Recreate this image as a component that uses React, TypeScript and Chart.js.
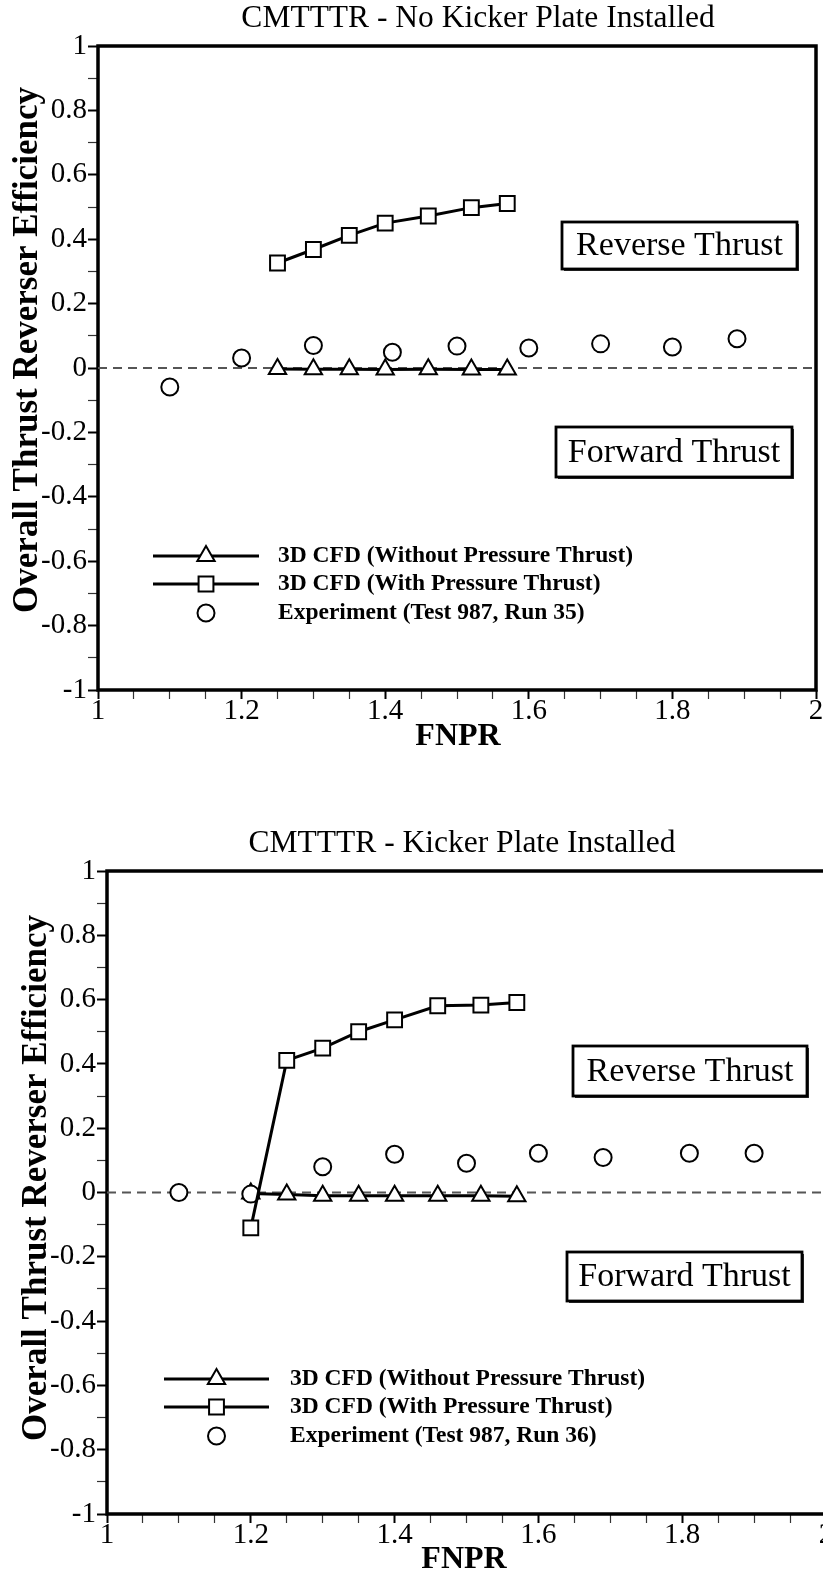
import React, { useEffect, useRef } from 'react';
import { Chart, registerables } from 'chart.js';

Chart.register(...registerables);

const FONT = "'Liberation Serif', 'Times New Roman', Times, serif";

// ---------- tick labels ----------
const xMin = 1;
const xMax = 2;
const yMin = -1;
const yMax = 1;
const xMajorTicks = [1, 1.2, 1.4, 1.6, 1.8, 2];
const yMajorTicks = [-1, -0.8, -0.6, -0.4, -0.2, 0, 0.2, 0.4, 0.6, 0.8, 1];

// ---------- series labels ----------
const labelWithout = '3D CFD (Without Pressure Thrust)';
const labelWith = '3D CFD (With Pressure Thrust)';
const labelExp1 = 'Experiment (Test 987, Run 35)';
const labelExp2 = 'Experiment (Test 987, Run 36)';

// ---------- panel 1: no kicker plate ----------
const fnprCfd1 = [1.25, 1.3, 1.35, 1.4, 1.46, 1.52, 1.57];
const effWithout1 = [-0.003, -0.004, -0.004, -0.005, -0.004, -0.005, -0.005];
const effWith1 = [0.326, 0.368, 0.412, 0.45, 0.472, 0.498, 0.511];
const fnprExp1 = [1.1, 1.2, 1.3, 1.41, 1.5, 1.6, 1.7, 1.8, 1.89];
const effExp1 = [-0.059, 0.031, 0.07, 0.049, 0.068, 0.062, 0.075, 0.065, 0.091];

// ---------- panel 2: kicker plate installed ----------
const fnprCfd2 = [1.2, 1.25, 1.3, 1.35, 1.4, 1.46, 1.52, 1.57];
const effWithout2 = [-0.003, -0.006, -0.01, -0.01, -0.01, -0.01, -0.01, -0.012];
const effWith2 = [-0.11, 0.411, 0.449, 0.5, 0.537, 0.581, 0.583, 0.591];
const fnprExp2 = [1.1, 1.2, 1.3, 1.4, 1.5, 1.6, 1.69, 1.81, 1.9];
const effExp2 = [0.0, -0.005, 0.08, 0.119, 0.091, 0.122, 0.109, 0.122, 0.122];

const toPts = (xs: number[], ys: number[]) => xs.map((x, i) => ({ x, y: ys[i] }));

const near = (a: number, b: number) => Math.abs(a - b) < 1e-6;
const majorLabel = (v: number, majors: number[]) => {
  const m = majors.find((t) => near(t, v));
  return m === undefined ? '' : String(m);
};
const isMajor = (v: number, majors: number[]) => majors.some((t) => near(t, v));

function drawMarker(ctx: CanvasRenderingContext2D, style: string, x: number, y: number, r: number) {
  ctx.beginPath();
  if (style === 'triangle') {
    ctx.moveTo(x, y - r);
    ctx.lineTo(x + r * Math.sin((2 * Math.PI) / 3), y - r * Math.cos((2 * Math.PI) / 3));
    ctx.lineTo(x + r * Math.sin((4 * Math.PI) / 3), y - r * Math.cos((4 * Math.PI) / 3));
    ctx.closePath();
  } else if (style === 'rect') {
    const s = Math.SQRT1_2 * r;
    ctx.rect(x - s, y - s, 2 * s, 2 * s);
  } else {
    ctx.arc(x, y, r, 0, Math.PI * 2);
  }
  ctx.fill();
  ctx.stroke();
}

const decorPlugin = {
  id: 'decor',
  beforeDatasetsDraw(chart: any) {
    const { ctx, chartArea: a } = chart;
    ctx.save();
    ctx.strokeStyle = '#000';
    ctx.lineWidth = 3.5;
    ctx.beginPath();
    ctx.rect(a.left, a.top, a.right - a.left, a.bottom - a.top);
    ctx.stroke();
    ctx.restore();
  },
  afterDraw(chart: any, _args: any, opts: any) {
    const { ctx } = chart;
    ctx.save();
    ctx.fillStyle = '#000';
    ctx.textBaseline = 'middle';

    // title
    ctx.textAlign = 'center';
    ctx.font = `normal 31.5px ${FONT}`;
    ctx.fillText(opts.title, opts.titlePos[0], opts.titlePos[1]);

    // x title
    ctx.font = `bold 32px ${FONT}`;
    ctx.fillText(opts.xTitle, opts.xTitlePos[0], opts.xTitlePos[1]);

    // y title
    ctx.save();
    ctx.translate(opts.yTitlePos[0], opts.yTitlePos[1]);
    ctx.rotate(-Math.PI / 2);
    ctx.font = `bold 35px ${FONT}`;
    ctx.fillText(opts.yTitle, 0, 0);
    ctx.restore();

    // annotation boxes
    ctx.font = `normal 34px ${FONT}`;
    for (const b of opts.boxes) {
      const [x1, y1, x2, y2] = b.rect;
      ctx.fillStyle = '#fff';
      ctx.fillRect(x1, y1, x2 - x1, y2 - y1);
      ctx.fillStyle = '#333';
      ctx.fillRect(x1 + 2, y2, x2 - x1, 2);
      ctx.fillRect(x2, y1 + 2, 2, y2 - y1);
      ctx.strokeStyle = '#000';
      ctx.lineWidth = 2.8;
      ctx.strokeRect(x1, y1, x2 - x1, y2 - y1);
      ctx.fillStyle = '#000';
      ctx.textAlign = 'center';
      ctx.fillText(b.text, (x1 + x2) / 2, (y1 + y2) / 2 + 1);
    }

    // legend
    const lg = opts.legend;
    const items = chart.data.datasets.filter((d: any) => d.inLegend);
    items.forEach((d: any, i: number) => {
      const y = lg.rows[i];
      ctx.strokeStyle = '#000';
      if (d.showLine) {
        ctx.lineWidth = d.borderWidth;
        ctx.beginPath();
        ctx.moveTo(lg.x1, y);
        ctx.lineTo(lg.x2, y);
        ctx.stroke();
      }
      ctx.lineWidth = d.pointBorderWidth;
      ctx.fillStyle = '#fff';
      drawMarker(ctx, d.pointStyle, (lg.x1 + lg.x2) / 2, y, d.pointRadius);
      ctx.fillStyle = '#000';
      ctx.textAlign = 'left';
      ctx.font = `bold 23.5px ${FONT}`;
      ctx.fillText(d.label, lg.textX, y);
    });
    ctx.restore();
  },
};

type PanelCfg = {
  top: number;
  width: number;
  height: number;
  area: { left: number; top: number; right: number; bottom: number };
  title: string;
  titlePos: [number, number];
  xTitlePos: [number, number];
  yTitlePos: [number, number];
  legend: { x1: number; x2: number; textX: number; rows: number[] };
  boxes: { text: string; rect: [number, number, number, number] }[];
  fnprCfd: number[];
  effWithout: number[];
  effWith: number[];
  fnprExp: number[];
  effExp: number[];
  expLabel: string;
};

const panels: PanelCfg[] = [
  {
    top: 0,
    width: 823,
    height: 790,
    area: { left: 98, top: 46, right: 816, bottom: 690 },
    title: 'CMTTTR - No Kicker Plate Installed',
    titlePos: [478, 19],
    xTitlePos: [458, 737],
    yTitlePos: [28, 350],
    legend: { x1: 153, x2: 259, textX: 278, rows: [556, 584, 613] },
    boxes: [
      { text: 'Reverse Thrust', rect: [562, 222, 797, 269] },
      { text: 'Forward Thrust', rect: [556, 427, 792, 477] },
    ],
    fnprCfd: fnprCfd1,
    effWithout: effWithout1,
    effWith: effWith1,
    fnprExp: fnprExp1,
    effExp: effExp1,
    expLabel: labelExp1,
  },
  {
    top: 790,
    width: 850,
    height: 789,
    area: { left: 107, top: 81, right: 826, bottom: 724 },
    title: 'CMTTTR - Kicker Plate Installed',
    titlePos: [462, 54],
    xTitlePos: [464, 770],
    yTitlePos: [37, 388],
    legend: { x1: 164, x2: 269, textX: 290, rows: [589, 617, 646] },
    boxes: [
      { text: 'Reverse Thrust', rect: [573, 256, 807, 306] },
      { text: 'Forward Thrust', rect: [567, 462, 802, 511] },
    ],
    fnprCfd: fnprCfd2,
    effWithout: effWithout2,
    effWith: effWith2,
    fnprExp: fnprExp2,
    effExp: effExp2,
    expLabel: labelExp2,
  },
];

function buildConfig(p: PanelCfg): any {
  const xAxisH = 60;
  const tickFont = { family: FONT, size: 29 };
  return {
    type: 'scatter',
    data: {
      datasets: [
        {
          label: 'zero line',
          data: [
            { x: xMin, y: 0 },
            { x: xMax, y: 0 },
          ],
          showLine: true,
          borderColor: '#555',
          borderWidth: 2,
          borderDash: [9, 6],
          pointRadius: 0,
          inLegend: false,
          order: 3,
        },
        {
          label: labelWithout,
          data: toPts(p.fnprCfd, p.effWithout),
          showLine: true,
          borderColor: '#000',
          borderWidth: 3,
          pointStyle: 'triangle',
          pointRadius: 10,
          pointBackgroundColor: '#fff',
          pointBorderColor: '#000',
          pointBorderWidth: 2,
          inLegend: true,
          order: 2,
        },
        {
          label: labelWith,
          data: toPts(p.fnprCfd, p.effWith),
          showLine: true,
          borderColor: '#000',
          borderWidth: 3,
          pointStyle: 'rect',
          pointRadius: 10.5,
          pointBackgroundColor: '#fff',
          pointBorderColor: '#000',
          pointBorderWidth: 2,
          inLegend: true,
          order: 0,
        },
        {
          label: p.expLabel,
          data: toPts(p.fnprExp, p.effExp),
          showLine: false,
          borderColor: '#000',
          borderWidth: 3,
          pointStyle: 'circle',
          pointRadius: 8.5,
          pointBackgroundColor: '#fff',
          pointBorderColor: '#000',
          pointBorderWidth: 2,
          inLegend: true,
          order: 1,
        },
      ],
    },
    options: {
      responsive: false,
      animation: false,
      layout: {
        autoPadding: false,
        padding: {
          left: 0,
          top: p.area.top,
          right: p.width - p.area.right,
          bottom: p.height - p.area.bottom - xAxisH,
        },
      },
      plugins: {
        legend: { display: false },
        tooltip: { enabled: false },
        title: { display: false },
        decor: {
          title: p.title,
          titlePos: p.titlePos,
          xTitle: 'FNPR',
          xTitlePos: p.xTitlePos,
          yTitle: 'Overall Thrust Reverser Efficiency',
          yTitlePos: p.yTitlePos,
          legend: p.legend,
          boxes: p.boxes,
        },
      },
      scales: {
        x: {
          type: 'linear',
          min: xMin,
          max: xMax,
          afterFit: (s: any) => {
            s.height = xAxisH;
          },
          border: { display: false },
          grid: {
            drawOnChartArea: false,
            drawTicks: true,
            tickLength: 9,
            tickWidth: (c: any) => (c.tick && isMajor(c.tick.value, xMajorTicks) ? 2 : 1.2),
            tickColor: (c: any) => (c.tick && isMajor(c.tick.value, xMajorTicks) ? '#000' : '#333'),
          },
          ticks: {
            stepSize: 0.05,
            autoSkip: false,
            maxRotation: 0,
            minRotation: 0,
            padding: -5,
            color: '#000',
            font: tickFont,
            callback: (v: number) => majorLabel(v, xMajorTicks),
          },
        },
        y: {
          type: 'linear',
          min: yMin,
          max: yMax,
          afterFit: (s: any) => {
            s.width = p.area.left;
          },
          border: { display: false },
          grid: {
            drawOnChartArea: false,
            drawTicks: true,
            tickLength: 10,
            tickWidth: (c: any) => (c.tick && isMajor(c.tick.value, yMajorTicks) ? 2 : 1.2),
            tickColor: (c: any) => (c.tick && isMajor(c.tick.value, yMajorTicks) ? '#000' : '#333'),
          },
          ticks: {
            stepSize: 0.1,
            autoSkip: false,
            padding: 1,
            color: '#000',
            font: tickFont,
            callback: (v: number) => majorLabel(v, yMajorTicks),
          },
        },
      },
    },
    plugins: [decorPlugin],
  };
}

function Panel({ cfg }: { cfg: PanelCfg }) {
  const ref = useRef<HTMLCanvasElement>(null);
  useEffect(() => {
    if (!ref.current) return;
    const chart = new Chart(ref.current, buildConfig(cfg));
    return () => chart.destroy();
  }, [cfg]);
  return (
    <div style={{ position: 'absolute', left: 0, top: cfg.top, width: cfg.width, height: cfg.height }}>
      <canvas ref={ref} width={cfg.width} height={cfg.height} style={{ width: cfg.width, height: cfg.height, display: 'block' }} />
    </div>
  );
}

export default function App() {
  return (
    <div
      style={{
        position: 'fixed',
        left: 0,
        top: 0,
        width: 823,
        height: 1579,
        overflow: 'hidden',
        background: '#fff',
      }}
    >
      {panels.map((p, i) => (
        <Panel key={i} cfg={p} />
      ))}
    </div>
  );
}
